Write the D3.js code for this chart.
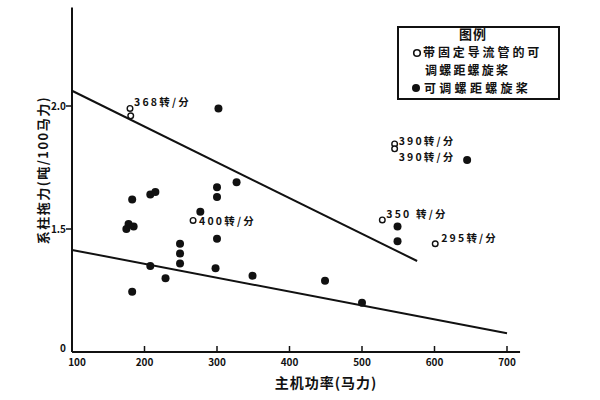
<!DOCTYPE html>
<html>
<head>
<meta charset="utf-8">
<script src="https://cdn.jsdelivr.net/npm/d3@7"></script>
<style>
  body { margin: 0; background: #fff; }
  text { font-family: "Noto Sans CJK SC", "DejaVu Sans", sans-serif; fill: #111; }
</style>
</head>
<body>
<svg id="chart" width="600" height="400"></svg>
<script>
// axis ticks
const xTicks = [100, 200, 300, 400, 500, 600, 700]
const yTicks = [1.0, 1.5, 2.0]
const yTickLabels = ['0', '1.5', '2.0']

// filled dots: controllable pitch propeller
const cppPower = [183, 208, 215, 300, 300, 327, 277, 178, 175, 185, 300, 249, 249, 249, 208, 298, 229, 349, 183, 302, 449, 500, 549, 549, 645]
const cppPull  = [1.62, 1.64, 1.65, 1.67, 1.63, 1.69, 1.57, 1.52, 1.50, 1.51, 1.46, 1.44, 1.40, 1.36, 1.35, 1.34, 1.30, 1.31, 1.245, 1.99, 1.29, 1.20, 1.51, 1.45, 1.78]

// open circles: CPP with fixed nozzle
const nozPower = [180, 181, 267, 528, 601, 545, 545]
const nozPull  = [1.99, 1.96, 1.535, 1.537, 1.44, 1.846, 1.826]
const nozLabel = ['368转/分', '', '400转/分', '350 转/分', '295转/分', '390转/分', '390转/分']

// trend lines
const upperPower = [100, 576]
const upperPull  = [2.062, 1.37]
const lowerPower = [100, 700]
const lowerPull  = [1.415, 1.076]

const svg = d3.select('#chart')

const x = d3.scaleLinear().domain([100, 700]).range([72, 507])
const y = d3.scaleLinear().domain([1.0, 2.0]).range([352, 106])

// axis lines
svg.append('line')
  .attr('x1', x(100)).attr('x2', x(718))
  .attr('y1', y(1)).attr('y2', y(1))
  .attr('stroke', '#111').attr('stroke-width', 2)
svg.append('line')
  .attr('x1', x(100)).attr('x2', x(100))
  .attr('y1', y(1)).attr('y2', y(2.4))
  .attr('stroke', '#111').attr('stroke-width', 2)

// x ticks (pointing up)
const xg = svg.append('g')
xg.selectAll('line').data(xTicks.slice(1)).enter().append('line')
  .attr('x1', d => x(d)).attr('x2', d => x(d))
  .attr('y1', y(1)).attr('y2', y(1) - 6)
  .attr('stroke', '#111').attr('stroke-width', 1.5)
xg.selectAll('text').data(xTicks).enter().append('text')
  .attr('x', d => x(d) + (d === 100 ? 5 : 0))
  .attr('y', y(1) + 14)
  .attr('text-anchor', 'middle')
  .attr('font-size', 10)
  .attr('font-weight', 'bold')
  .text(d => d)

// y ticks (pointing left)
const yg = svg.append('g')
yg.selectAll('line').data(yTicks.slice(1)).enter().append('line')
  .attr('x1', x(100) - 6).attr('x2', x(100))
  .attr('y1', d => y(d)).attr('y2', d => y(d))
  .attr('stroke', '#111').attr('stroke-width', 1.5)
yg.selectAll('text').data(yTicks).enter().append('text')
  .attr('x', x(100) - 6)
  .attr('y', (d, i) => y(d) + (i === 0 ? 0 : 4))
  .attr('text-anchor', 'end')
  .attr('font-size', 10)
  .attr('font-weight', 'bold')
  .text((d, i) => yTickLabels[i])

// axis titles
svg.append('text')
  .attr('x', 326).attr('y', 388)
  .attr('text-anchor', 'middle')
  .attr('font-size', 14).attr('font-weight', 'bold')
  .attr('letter-spacing', 1)
  .text('主机功率(马力)')
svg.append('text')
  .attr('transform', 'translate(48,170) rotate(-90)')
  .attr('text-anchor', 'middle')
  .attr('font-size', 13).attr('font-weight', 'bold')
  .attr('letter-spacing', 1.5)
  .text('系柱拖力(吨/100马力)')

// trend lines
const line = d3.line().x(d => x(d[0])).y(d => y(d[1]))
svg.append('path')
  .attr('d', line(d3.zip(upperPower, upperPull)))
  .attr('stroke', '#111').attr('stroke-width', 2).attr('fill', 'none')
svg.append('path')
  .attr('d', line(d3.zip(lowerPower, lowerPull)))
  .attr('stroke', '#111').attr('stroke-width', 2).attr('fill', 'none')

// filled dots
svg.append('g').selectAll('circle')
  .data(d3.zip(cppPower, cppPull)).enter().append('circle')
  .attr('cx', d => x(d[0])).attr('cy', d => y(d[1]))
  .attr('r', 4).attr('fill', '#111')

// open circles
const noz = d3.zip(nozPower, nozPull, nozLabel)
svg.append('g').selectAll('circle')
  .data(noz).enter().append('circle')
  .attr('cx', d => x(d[0])).attr('cy', d => y(d[1]))
  .attr('r', 2.8).attr('fill', '#fff')
  .attr('stroke', '#111').attr('stroke-width', 1.4)

// label offsets (dx, dy) from each open circle
const labelOffset = [[4, -2], [0, 0], [6, 5], [4, -2], [6, -2], [4, 1.5], [4, 11.7]]
svg.append('g').selectAll('text')
  .data(noz).enter().append('text')
  .attr('x', (d, i) => x(d[0]) + labelOffset[i][0])
  .attr('y', (d, i) => y(d[1]) + labelOffset[i][1])
  .attr('font-size', 10.5).attr('font-weight', 'bold')
  .attr('letter-spacing', 2.2)
  .text(d => d[2])

// legend
const lg = svg.append('g')
lg.append('rect')
  .attr('x', 398).attr('y', 27).attr('width', 161).attr('height', 72)
  .attr('fill', '#fff').attr('stroke', '#111').attr('stroke-width', 2)
lg.append('text').attr('x', 473).attr('y', 39)
  .attr('text-anchor', 'middle').attr('font-size', 13).attr('font-weight', 'bold')
  .attr('letter-spacing', 1)
  .text('图例')
lg.append('circle').attr('cx', 417).attr('cy', 53).attr('r', 3.3)
  .attr('fill', '#fff').attr('stroke', '#111').attr('stroke-width', 1.6)
lg.append('text').attr('x', 423).attr('y', 57)
  .attr('font-size', 12).attr('font-weight', 'bold').attr('letter-spacing', 2.9)
  .text('带固定导流管的可')
lg.append('text').attr('x', 425).attr('y', 74.5)
  .attr('font-size', 12).attr('font-weight', 'bold').attr('letter-spacing', 2.2)
  .text('调螺距螺旋桨')
lg.append('circle').attr('cx', 416).attr('cy', 88).attr('r', 4)
  .attr('fill', '#111')
lg.append('text').attr('x', 424).attr('y', 92.5)
  .attr('font-size', 12).attr('font-weight', 'bold').attr('letter-spacing', 3.3)
  .text('可调螺距螺旋桨')
</script>
</body>
</html>
